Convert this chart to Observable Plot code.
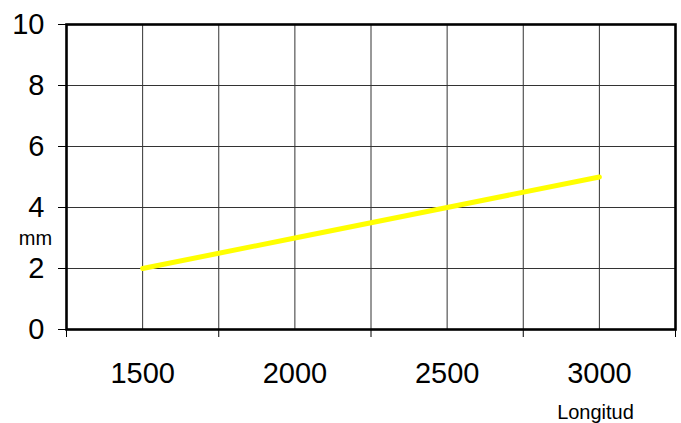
<!DOCTYPE html>
<html>
<head>
<meta charset="utf-8">
<script src="https://cdn.jsdelivr.net/npm/d3@7"></script>
<script src="https://cdn.jsdelivr.net/npm/@observablehq/plot@0.6"></script>
<style>
  html, body { margin: 0; padding: 0; background: #fff; }
  #chart { width: 681px; height: 423px; }
</style>
</head>
<body>
<div id="chart"></div>
<script>
const longitud = [1500, 2000, 2500, 3000];
const mm = [2, 3, 4, 5];
const xLabelTicks = [1500, 2000, 2500, 3000];
const xTickMarks = [1250, 1750, 2250, 2750, 3250];
const xGrid = [1500, 1750, 2000, 2250, 2500, 2750, 3000];
const yTicks = [0, 2, 4, 6, 8, 10];
const xTitle = "Longitud";
const yTitle = "mm";

const data = longitud.map((x, i) => ({x, y: mm[i]}));
const font = "'Liberation Sans', Arial, sans-serif";

const chart = Plot.plot({
  width: 681,
  height: 423,
  marginLeft: 66,
  marginRight: 6,
  marginTop: 24,
  marginBottom: 94,
  style: {fontFamily: font, background: "#fff", color: "#000"},
  x: {domain: [1250, 3250]},
  y: {domain: [0, 10]},
  marks: [
    Plot.ruleX(xGrid, {stroke: "#333", strokeWidth: 1}),
    Plot.ruleY(yTicks, {stroke: "#333", strokeWidth: 1}),
    Plot.axisX({ticks: xTickMarks, tickSize: 8, tickFormat: () => "", stroke: "#000", strokeWidth: 1, label: null}),
    Plot.axisX({ticks: xLabelTicks, tickSize: 0, tickPadding: 33, fontSize: 29, tickFormat: d => String(d), label: null}),
    Plot.axisY({ticks: yTicks, tickSize: 8, tickPadding: 14, fontSize: 29, tickFormat: d => String(d), stroke: "#000", label: null}),
    Plot.line(data, {x: "x", y: "y", stroke: "#ffff00", strokeWidth: 5}),
    Plot.frame({stroke: "#000", strokeWidth: 2.6}),
    Plot.text([xTitle], {frameAnchor: "bottom-right", dx: -80, dy: 89, lineAnchor: "bottom", textAnchor: "middle", fontSize: 20}),
    Plot.text([yTitle], {frameAnchor: "left", dx: -31, dy: 62, textAnchor: "middle", fontSize: 20})
  ]
});
document.getElementById("chart").appendChild(chart);
</script>
</body>
</html>
